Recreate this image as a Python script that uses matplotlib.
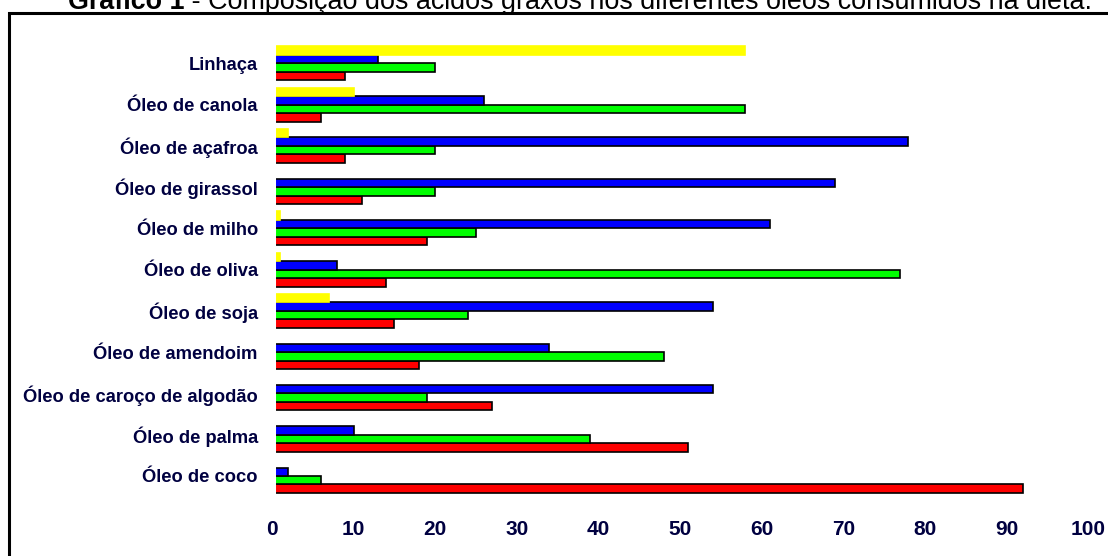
import numpy as np
import matplotlib
matplotlib.use('Agg')
from matplotlib import pyplot as plt
from matplotlib.patches import Rectangle

oleos = ['Linhaça', 'Óleo de canola', 'Óleo de açafroa', 'Óleo de girassol',
         'Óleo de milho', 'Óleo de oliva', 'Óleo de soja', 'Óleo de amendoim',
         'Óleo de caroço de algodão', 'Óleo de palma', 'Óleo de coco']
saturados = [9, 6, 9, 11, 19, 14, 15, 18, 27, 51, 92]
monoinsaturados = [20, 58, 20, 20, 25, 77, 24, 48, 19, 39, 6]
linoleico = [13, 26, 78, 69, 61, 8, 54, 34, 54, 10, 2]
alfa_linolenico = [58, 10, 2, 0, 1, 1, 7, 0, 0, 0, 0]
eixo_x = list(range(0, 101, 10))

W, H = 1108, 556
plt.rcParams['font.family'] = ['Liberation Sans', 'DejaVu Sans']
azul_texto = '#000040'

fig = plt.figure(figsize=(W / 100, H / 100), dpi=100)
ax = fig.add_axes([272 / W, 1 - 496.6 / H, 816 / W, 453.9 / H])

y = np.arange(len(oleos))[::-1]
h = 0.205
series = [(saturados, '#FF0000', 'black', -1.5),
          (monoinsaturados, '#00FF00', 'black', -0.5),
          (linoleico, '#0000FF', 'black', 0.5),
          (alfa_linolenico, '#FFFF00', '#FFFF00', 1.5)]
for vals, cor, borda, off in series:
    ax.barh(y + off * h, vals, height=h, color=cor, edgecolor=borda, linewidth=1.2)

ax.set_xlim(0, 100)
ax.set_ylim(-0.5, 10.5)
ax.set_xticks(eixo_x)
ax.set_yticks(y)
ax.set_yticklabels(oleos)
ax.tick_params(axis='y', length=0, pad=10.2, labelsize=13.2, labelcolor=azul_texto)
ax.tick_params(axis='x', length=0, pad=17, labelsize=15, labelcolor=azul_texto)
for lbl in ax.get_xticklabels() + ax.get_yticklabels():
    lbl.set_fontweight('bold')

for s in ['top', 'right', 'bottom']:
    ax.spines[s].set_visible(False)
# eixo das categorias em branco, por cima do inicio das barras
ax.spines['left'].set_color('white')
ax.spines['left'].set_linewidth(5.8)
ax.spines['left'].set_zorder(3)

# moldura
fig.patches.append(Rectangle((9 / W, -0.1), 1.2, 1.1 - 13 / H, transform=fig.transFigure,
                             fill=False, edgecolor='black', linewidth=2.2))

# titulo: parte em negrito + resto normal, centrado
fig.canvas.draw()
r = fig.canvas.get_renderer()
base = 1 - 9 / H
t1 = fig.text(0, base, 'Gráfico 1', fontsize=19.4, fontweight='bold', va='baseline')
t2 = fig.text(0, base, ' - Composição dos ácidos graxos nos diferentes óleos consumidos na dieta.',
              fontsize=19.4, va='baseline')
w1 = t1.get_window_extent(r).width
w2 = t2.get_window_extent(r).width
x0 = 580 - (w1 + w2) / 2
t1.set_x(x0 / W)
t2.set_x((x0 + w1) / W)

fig.savefig('out.png', dpi=100)
